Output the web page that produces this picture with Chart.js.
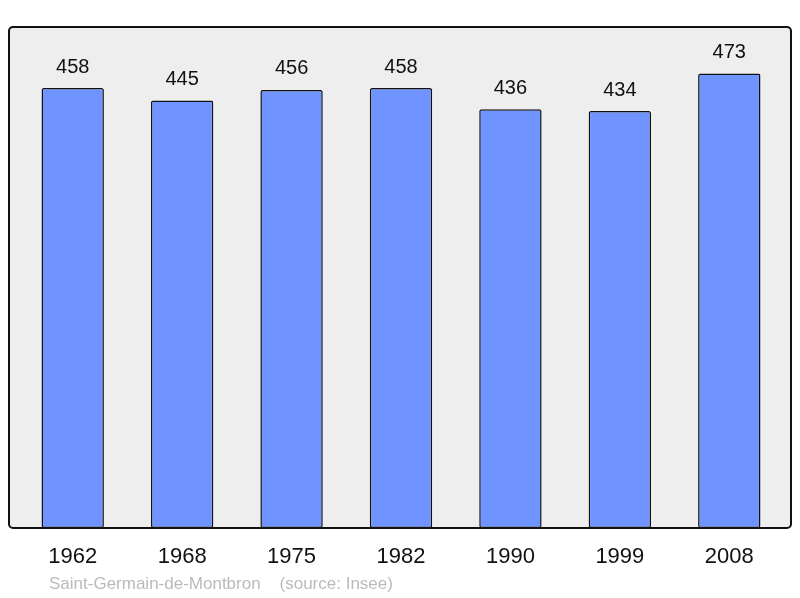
<!DOCTYPE html>
<html>
<head>
<meta charset="utf-8">
<script src="https://cdn.jsdelivr.net/npm/chart.js@4/dist/chart.umd.min.js"></script>
<style>
  html, body { margin: 0; padding: 0; background: #fff; }
  #wrap { width: 800px; height: 598px; }
</style>
</head>
<body>
<div id="wrap"><canvas id="chart" width="800" height="598"></canvas></div>
<script>
// Data
const years = ['1962', '1968', '1975', '1982', '1990', '1999', '2008'];
const population = [458, 445, 456, 458, 436, 434, 473];
const sourceText = 'Saint-Germain-de-Montbron    (source: Insee)';

// Grey panel with rounded border behind the bars
const panelPlugin = {
    id: 'panel',
    beforeDatasetsDraw(chart) {
        const { ctx, chartArea } = chart;
        const x = chartArea.left - 9, y = chartArea.top;
        const w = chartArea.right + 7 - x, h = chartArea.bottom - y;
        ctx.save();
        ctx.beginPath();
        ctx.roundRect(x, y, w, h, 4);
        ctx.fillStyle = '#eeeeee';
        ctx.fill();
        ctx.restore();
    },
    afterDatasetsDraw(chart) {
        const { ctx, chartArea } = chart;
        const x = chartArea.left - 9, y = chartArea.top;
        const w = chartArea.right + 7 - x, h = chartArea.bottom - y;
        ctx.save();
        ctx.beginPath();
        ctx.roundRect(x, y, w, h, 4);
        ctx.lineWidth = 2;
        ctx.strokeStyle = '#111';
        ctx.stroke();

        // values above bars
        ctx.fillStyle = '#111';
        ctx.font = '20px "Liberation Sans", Arial, sans-serif';
        ctx.textAlign = 'center';
        ctx.textBaseline = 'middle';
        chart.getDatasetMeta(0).data.forEach((bar, i) => {
            ctx.fillText(population[i], bar.x, bar.y - 21);
        });

        // source line
        ctx.fillStyle = '#bbbbbb';
        ctx.font = '17px "Liberation Sans", Arial, sans-serif';
        ctx.textAlign = 'left';
        ctx.fillText(sourceText, 49, 584);
        ctx.restore();
    }
};

new Chart(document.getElementById('chart'), {
    type: 'bar',
    data: {
        labels: years,
        datasets: [{
            data: population,
            backgroundColor: '#7094ff',
            borderColor: '#111',
            borderWidth: 1.5,
            borderRadius: 2,
            borderSkipped: false,
            categoryPercentage: 1,
            barPercentage: 0.57
        }]
    },
    options: {
        responsive: false,
        animation: false,
        layout: { padding: { left: 18, right: 16, top: 27, bottom: 0 } },
        plugins: { legend: { display: false }, tooltip: { enabled: false } },
        scales: {
            x: {
                grid: { display: false },
                border: { display: false },
                ticks: {
                    color: '#111',
                    padding: 8,
                    font: { size: 22, family: '"Liberation Sans", Arial, sans-serif' }
                },
                afterFit(scale) { scale.height = 70; }
            },
            y: {
                display: false,
                min: 0,
                max: 521.5
            }
        }
    },
    plugins: [panelPlugin]
});
</script>
</body>
</html>
